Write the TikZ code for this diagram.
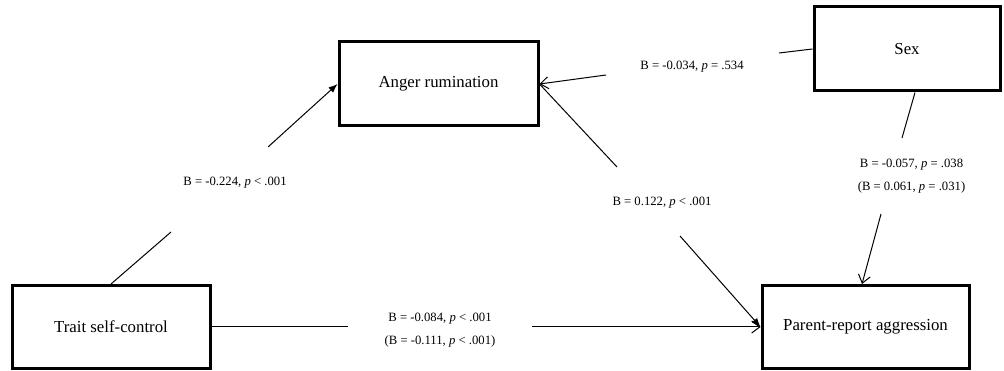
\documentclass[tikz,border=0pt]{standalone}
\usepackage{fontspec}
\setmainfont{Liberation Serif}
\usepackage{tikz}
\usetikzlibrary{arrows.meta,positioning,calc}
\tikzset{
  mdpic/.style={x=1pt, y=1pt},
  m box/.style={draw, line width=3pt, align=center, inner sep=0pt,
                font=\fontsize{16.8}{20}\selectfont},
  m lab/.style={align=center, inner sep=1pt, font=\fontsize{12.7}{23}\selectfont},
  m line/.style={line width=1pt},
  m arr/.style={m line, -{Latex[length=9pt, width=7pt]}},
  m open/.style={m line, -{Straight Barb[length=8pt, width=12pt]}},
}

\begin{document}
\begin{tikzpicture}[mdpic]
\useasboundingbox (0, 0) rectangle (1004, -371);
% ---- variables ----
\node[m box, minimum width=199pt, minimum height=84pt] (rum)   at (438.5, -84)  {Anger rumination};
\node[m box, minimum width=186pt, minimum height=84pt] (sex)   at (907, -49)    {Sex};
\node[m box, minimum width=198pt, minimum height=83pt] (tsc)   at (111, -327)   {Trait self-control};
\node[m box, minimum width=207pt, minimum height=83pt] (aggr)  at (865.5, -327) {Parent-report aggression};
% ---- break points of the paths ----
\coordinate (tr1) at (171, -232);   \coordinate (tr2) at (268, -147);
\coordinate (ra1) at (617, -167);   \coordinate (ra2) at (680, -236);
\coordinate (sr1) at (779, -53);    \coordinate (sr2) at (606, -75);
\coordinate (sa1) at (902, -138);   \coordinate (sa2) at (881, -214);
\coordinate (ta1) at (348, -327);   \coordinate (ta2) at (532, -327);
% ---- paths ----
\draw[m line] (tsc.north) -- (tr1);  \draw[m arr]  (tr2) -- (rum.west);
\draw[m line] (rum.east) -- (ra1);   \draw[m arr]  (ra2) -- (aggr.west);
\draw[m line] (sex.west) -- (sr1);   \draw[m open] (sr2) -- (rum.east);
\draw[m line] ([xshift=8pt]sex.south) -- (sa1); \draw[m open] (sa2) -- ([xshift=-3.5pt]aggr.north);
\draw[m line] (tsc.east) -- (ta1);   \draw[m open] (ta2) -- (aggr.west);
% ---- coefficients ----
\node[m lab] (l1) at (235, -183) {B = -0.224, \textit{p} < .001};
\node[m lab] (l2) at (692, -67)  {B = -0.034, \textit{p} = .534};
\node[m lab] (l3) at (662, -203) {B = 0.122, \textit{p} < .001};
\node[m lab] (l4) at (911.5, -176) {B = -0.057, \textit{p} = .038\\(B = 0.061, \textit{p} = .031)};
\node[m lab] (l5) at (440, -330) {B = -0.084, \textit{p} < .001\\(B = -0.111, \textit{p} < .001)};
\end{tikzpicture}
\end{document}
